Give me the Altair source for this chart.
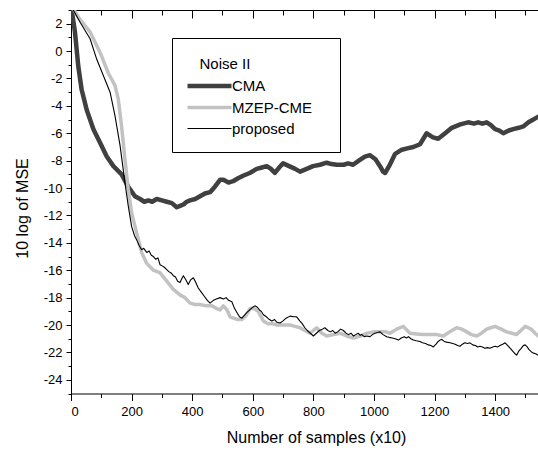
import altair as alt
import pandas as pd

# (samples x10, 10 log MSE)
cma = [
    (0, 3.2), (5, 2.6), (13, 1.4), (24, -1.1), (35, -2.8), (52, -4.3), (74, -5.7),
    (96, -6.7), (118, -7.7), (140, -8.4), (167, -9.0), (189, -9.9), (211, -10.6),
    (228, -10.8), (242, -11.0), (255, -10.9), (268, -11.0), (283, -10.8), (300, -10.9),
    (316, -11.0), (333, -11.1), (349, -11.4), (360, -11.3), (371, -11.2), (382, -11.0),
    (393, -10.9), (410, -10.8), (426, -10.6), (442, -10.4), (459, -10.3), (475, -9.9),
    (492, -9.4), (503, -9.4), (520, -9.6), (535, -9.5), (550, -9.3), (568, -9.1),
    (590, -8.9), (613, -8.6), (630, -8.5), (646, -8.4), (660, -8.6), (673, -8.9),
    (687, -8.5), (700, -8.2), (720, -8.4), (740, -8.6), (756, -8.8), (778, -8.6),
    (799, -8.4), (822, -8.3), (844, -8.15), (860, -8.25), (877, -8.3), (900, -8.3),
    (915, -8.2), (931, -8.3), (950, -8.0), (970, -7.7), (987, -7.6), (1005, -7.9),
    (1020, -8.4), (1030, -8.8), (1037, -8.9), (1050, -8.4), (1070, -7.5), (1092, -7.2),
    (1110, -7.1), (1130, -7.0), (1152, -6.8), (1174, -6.0), (1195, -6.3), (1212, -6.4),
    (1235, -6.0), (1257, -5.6), (1285, -5.35), (1311, -5.2), (1330, -5.3), (1344, -5.2),
    (1358, -5.3), (1372, -5.2), (1386, -5.4), (1400, -5.7), (1414, -5.8), (1427, -6.0),
    (1445, -5.8), (1460, -5.7), (1478, -5.6), (1493, -5.5), (1510, -5.2), (1526, -5.0),
    (1541, -4.8), (1550, -4.8),
]

mzep_cme = [
    (0, 3.2), (10, 3.0), (30, 2.3), (63, 1.4), (96, -0.1), (123, -1.6), (145, -2.5),
    (156, -3.5), (167, -5.5), (178, -7.9), (189, -10.1), (200, -11.8), (217, -13.3),
    (233, -14.7), (250, -15.5), (272, -16.0), (294, -16.2), (316, -16.8), (338, -17.4),
    (360, -17.8), (376, -18.0), (393, -18.4), (410, -18.5), (426, -18.5), (448, -18.6),
    (465, -18.6), (481, -18.8), (492, -18.9), (503, -18.6), (515, -18.9), (525, -19.4),
    (536, -19.5), (550, -19.6), (564, -19.6), (578, -19.3), (591, -18.8), (605, -18.8),
    (618, -19.0), (635, -19.7), (650, -19.9), (665, -19.9), (679, -20.0), (700, -20.0),
    (723, -20.0), (740, -20.1), (756, -20.2), (772, -20.4), (789, -20.6), (800, -20.4),
    (811, -20.2), (828, -20.6), (844, -20.8), (866, -20.7), (888, -20.6), (910, -20.8),
    (932, -20.95), (955, -20.8), (976, -20.6), (1000, -20.5), (1020, -20.5), (1040, -20.5),
    (1053, -20.6), (1075, -20.3), (1097, -20.1), (1110, -20.4), (1119, -20.6), (1140, -20.65),
    (1163, -20.7), (1185, -20.7), (1207, -20.7), (1229, -20.8), (1250, -20.5), (1273, -20.2),
    (1290, -20.3), (1306, -20.5), (1322, -20.7), (1339, -20.8), (1355, -20.6), (1372, -20.3),
    (1386, -20.2), (1400, -20.1), (1420, -20.3), (1438, -20.5), (1455, -20.6), (1471, -20.7),
    (1485, -20.4), (1499, -20.1), (1510, -20.2), (1521, -20.35), (1532, -20.6), (1542, -20.8),
    (1550, -20.9),
]

proposed = [
    (0, 3.2), (10, 2.9), (30, 2.1), (63, 0.9), (85, -0.6), (107, -1.8), (129, -3.0),
    (145, -4.7), (162, -6.9), (178, -9.6), (189, -11.3), (200, -12.8), (210, -13.5),
    (217, -13.8), (225, -14.2), (233, -14.5), (240, -14.4), (250, -14.7), (258, -14.6),
    (265, -14.9), (272, -15.0), (280, -15.2), (287, -15.1), (294, -15.6), (302, -15.7),
    (309, -15.8), (316, -15.95), (323, -16.1), (330, -16.2), (338, -16.4), (345, -16.5),
    (352, -16.8), (360, -16.9), (366, -16.6), (371, -16.4), (379, -16.7), (387, -17.05),
    (395, -16.7), (404, -16.55), (412, -16.9), (420, -17.3), (430, -17.6), (440, -17.9),
    (450, -18.2), (459, -18.4), (470, -18.2), (480, -18.1), (492, -18.0), (503, -18.1),
    (512, -18.0), (520, -18.2), (531, -18.3), (540, -18.8), (548, -19.1), (556, -19.4),
    (564, -19.5), (572, -19.3), (580, -19.1), (590, -18.9), (600, -18.7), (607, -18.6),
    (615, -18.7), (622, -18.9), (628, -19.0), (635, -19.25), (645, -19.4), (655, -19.6),
    (663, -19.7), (672, -19.6), (680, -19.8), (690, -19.85), (700, -19.7), (710, -19.5),
    (723, -19.35), (735, -19.4), (745, -19.4), (755, -19.7), (763, -19.9), (772, -20.2),
    (780, -20.4), (790, -20.6), (800, -20.8), (810, -20.6), (820, -20.4), (830, -20.3),
    (838, -20.2), (848, -20.4), (856, -20.5), (864, -20.4), (872, -20.6), (880, -20.5),
    (890, -20.3), (899, -20.4), (908, -20.6), (916, -20.7), (924, -20.6), (932, -20.8),
    (940, -20.7), (948, -20.6), (955, -20.75), (960, -20.7), (968, -20.85), (975, -20.8),
    (987, -20.85), (995, -20.7), (1003, -20.6), (1012, -20.55), (1020, -20.5), (1030, -20.7),
    (1042, -20.85), (1050, -20.9), (1060, -20.95), (1070, -21.0), (1081, -21.1), (1090, -20.95),
    (1100, -20.85), (1107, -20.95), (1114, -20.85), (1122, -21.0), (1130, -21.1), (1140, -21.15),
    (1152, -21.2), (1160, -21.3), (1170, -21.35), (1180, -21.45), (1188, -21.5), (1196, -21.6),
    (1205, -21.4), (1212, -21.2), (1218, -21.1), (1224, -21.05), (1232, -21.2), (1240, -21.25),
    (1251, -21.3), (1260, -21.35), (1268, -21.4), (1276, -21.5), (1284, -21.55), (1292, -21.4),
    (1300, -21.3), (1309, -21.35), (1317, -21.3), (1326, -21.45), (1335, -21.5), (1342, -21.6),
    (1350, -21.55), (1358, -21.6), (1366, -21.7), (1375, -21.65), (1383, -21.7), (1392, -21.6),
    (1400, -21.55), (1408, -21.6), (1416, -21.5), (1425, -21.4), (1433, -21.3), (1442, -21.5),
    (1450, -21.7), (1458, -21.9), (1466, -22.1), (1471, -22.2), (1478, -21.9), (1486, -21.7),
    (1493, -21.5), (1499, -21.45), (1506, -21.6), (1512, -21.8), (1519, -21.95), (1526, -22.05),
    (1534, -22.1), (1542, -22.2), (1550, -22.2),
]

series_names = ["CMA", "MZEP-CME", "proposed"]
series_colors = ["#404040", "#c2c2c2", "#000000"]
series_widths = [4.5, 3.5, 1.1]

x_major = list(range(0, 1601, 200))
x_minor = list(range(0, 1601, 100))
y_major = list(range(-24, 3, 2))
y_minor = list(range(-25, 4))

rows = []
for name, pts in zip(series_names, [cma, mzep_cme, proposed]):
    for i, (sx, sy) in enumerate(pts):
        rows.append({"series": name, "samples": sx, "mse": sy, "idx": i})
df = pd.DataFrame(rows)

FONT = "Liberation Sans"
xs = alt.Scale(domain=[0, 1541.5], nice=False, zero=False)
ys = alt.Scale(domain=[-25, 3], nice=False, zero=False)

# zero-width guards keep the padding spaces from being trimmed
legend = alt.Legend(
    title="\u200b\u00a0\u00a0\u00a0Noise II",
    orient="none",
    legendX=101,
    legendY=28,
    strokeColor="black",
    fillColor="white",
    padding=15,
    titleFont=FONT,
    titleFontSize=15,
    titleFontWeight="normal",
    titleColor="black",
    titleBaseline="line-top",
    titleLineHeight=23,
    titlePadding=10,
    labelFont=FONT,
    labelFontSize=15,
    labelColor="black",
    labelOffset=29,
    labelExpr="datum.label + '\u00a0\u00a0\u00a0\u200b'",
    symbolType="M-1.364,0H6.636",
    symbolSize=121,
    rowPadding=5,
)

lines = alt.Chart(df).mark_line(clip=True, strokeJoin="round").encode(
    x=alt.X("samples:Q", scale=xs,
            axis=alt.Axis(values=x_major, title="Number of samples (x10)", orient="bottom",
                          tickSize=7, labelPadding=5, titlePadding=11, titleX=245,
                          labelExpr="toString(datum.value)", grid=False)),
    y=alt.Y("mse:Q", scale=ys,
            axis=alt.Axis(values=y_major, title="10 log of MSE", orient="left",
                          tickSize=5, labelPadding=4, titlePadding=13, titleY=198,
                          labelExpr="toString(datum.value)", grid=False)),
    color=alt.Color("series:N", scale=alt.Scale(domain=series_names, range=series_colors),
                    legend=legend),
    strokeWidth=alt.StrokeWidth("series:N",
                                scale=alt.Scale(type="ordinal", domain=series_names,
                                                range=series_widths),
                                legend=legend),
    order="idx:Q",
)

def tick_layer(x_axis, y_axis):
    return alt.Chart(df).mark_point(opacity=0, clip=True).encode(
        x=alt.X("samples:Q", scale=xs, axis=x_axis),
        y=alt.Y("mse:Q", scale=ys, axis=y_axis),
    )

# minor ticks on the bottom and left axes
minor = tick_layer(
    alt.Axis(values=x_minor, labels=False, title=None, orient="bottom", tickSize=4,
             domain=False, grid=False),
    alt.Axis(values=y_minor, labels=False, title=None, orient="left", tickSize=3,
             domain=False, grid=False),
)
# inward ticks hanging from the top frame
top_major = tick_layer(
    alt.Axis(values=x_major, labels=False, title=None, orient="top", tickSize=8,
             offset=-8, domain=False, grid=False),
    None,
)
top_minor = tick_layer(
    alt.Axis(values=x_minor, labels=False, title=None, orient="top", tickSize=5,
             offset=-5, domain=False, grid=False),
    None,
)
top_frame = tick_layer(
    alt.Axis(labels=False, ticks=False, title=None, orient="top", domain=True, grid=False),
    None,
)

chart = alt.layer(lines, minor, top_major, top_minor, top_frame).resolve_axis(
    x="independent", y="independent"
).properties(
    width=467,
    height=383.5,
    padding={"left": 71, "top": 10, "right": 0, "bottom": 58.5},
    autosize=alt.AutoSizeParams(type="none"),
    background="white",
).configure_view(
    stroke=None
).configure_axis(
    labelFont=FONT,
    titleFont=FONT,
    labelFontSize=13,
    titleFontSize=16,
    titleFontWeight="normal",
    labelColor="black",
    titleColor="black",
    domainColor="black",
    tickColor="black",
    domainWidth=1,
    tickWidth=1,
)

chart.save("out.html", embed_options={"renderer": "svg", "actions": False})
